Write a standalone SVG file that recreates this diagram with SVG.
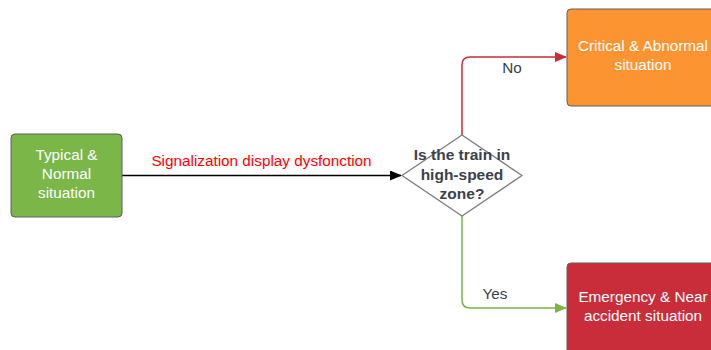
<svg xmlns="http://www.w3.org/2000/svg" width="711" height="350" viewBox="0 0 711 350">
<defs>
<style>
text{font-family:"Liberation Sans",Arial,sans-serif;font-size:15.3px;text-anchor:middle}
.w{fill:#ffffff}
.box{stroke:#5e5e5e;stroke-width:1}
.lbl{fill:#3a414a}
.q{fill:#3a414a;font-weight:bold;font-size:15.5px}
.conn{fill:none;stroke-width:1.5}
</style>
<marker id="ab" markerWidth="12" markerHeight="10" refX="11" refY="5" orient="auto" markerUnits="userSpaceOnUse"><path d="M0,0 L12,5 L0,10 Z" fill="#000"/></marker>
<marker id="ar" markerWidth="12" markerHeight="10" refX="11" refY="5" orient="auto" markerUnits="userSpaceOnUse"><path d="M0,0 L12,5 L0,10 Z" fill="#c92d39"/></marker>
<marker id="ag" markerWidth="12" markerHeight="10" refX="11" refY="5" orient="auto" markerUnits="userSpaceOnUse"><path d="M0,0 L12,5 L0,10 Z" fill="#7ab648"/></marker>
</defs>
<rect width="711" height="350" fill="#ffffff"/>
<g id="connectors">
<path class="conn" d="M122,175.5 H401" stroke="#000" stroke-width="1.3" marker-end="url(#ab)"/>
<path class="conn" d="M462,135 V65 Q462,57 470,57 H566" stroke="#c92d39" marker-end="url(#ar)"/>
<path class="conn" d="M462,216 V300 Q462,308 470,308 H566" stroke="#7ab648" marker-end="url(#ag)"/>
<text x="261.5" y="166" fill="#ff0000">Signalization display dysfonction</text>
<text class="lbl" x="512" y="73">No</text>
<text class="lbl" x="495" y="299">Yes</text>
</g>
<g id="typical">
<rect class="box" x="11" y="134" width="111" height="83" rx="4" fill="#7ab648"/>
<text class="w" x="66.5" y="160">Typical &amp;</text>
<text class="w" x="66.5" y="179">Normal</text>
<text class="w" x="66.5" y="198">situation</text>
</g>
<g id="decision">
<path d="M462,135 L522,175.5 L462,216 L402,175.5 Z" fill="#ffffff" stroke="#7f7f7f" stroke-width="1.5" stroke-linejoin="round"/>
<text class="q" x="462" y="160">Is the train in</text>
<text class="q" x="462" y="180">high-speed</text>
<text class="q" x="462" y="199">zone?</text>
</g>
<g id="critical">
<rect class="box" x="567" y="9" width="152" height="97" rx="4" fill="#fc9432"/>
<text class="w" x="643" y="51">Critical &amp; Abnormal</text>
<text class="w" x="643" y="70">situation</text>
</g>
<g id="emergency">
<rect class="box" x="567" y="263" width="152" height="97" rx="4" fill="#c92d39"/>
<text class="w" x="643" y="302">Emergency &amp; Near</text>
<text class="w" x="643" y="321">accident situation</text>
</g>
</svg>
